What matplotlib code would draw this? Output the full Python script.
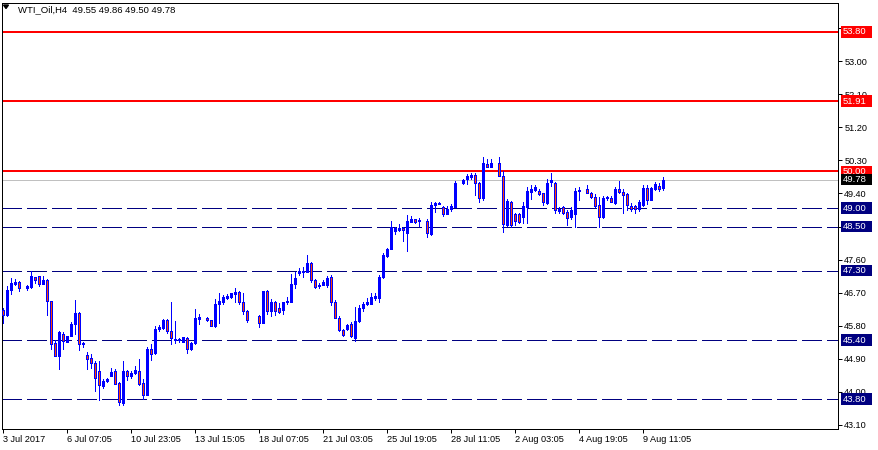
import numpy as np
import matplotlib.pyplot as plt
from matplotlib.patches import Rectangle, Polygon
import matplotlib.transforms as mtransforms

plt.rcParams['font.family'] = ['Liberation Sans', 'DejaVu Sans']
plt.rcParams['lines.scale_dashes'] = False

nan = np.nan

#!données : barres H4 (nan = pas de barre)
o = [46.22, 46.08, 46.76, 46.94, 46.98, nan, 46.82, 46.85, 47.13, 47.15,
     46.93, 47.03, 46.46, 45.33, 44.97, 45.57, 45.35, 45.53, 45.84, 46.14,
     45.31, 45.01, 44.91, 44.77, 44.55, 44.15, 44.28, 44.43, 44.55, 44.23,
     43.70, 44.55, 44.42, 44.51, 44.56, 44.24, 43.92, 45.16, 45.06, 45.72,
     45.74, 45.96, 45.65, 45.40, 45.44, 45.36, 45.45, 45.16, 45.32, 45.99,
     nan, 46.02, 45.95, 45.79, 46.39, 46.45, 46.56, 46.59, 46.66, 46.71,
     46.44, 46.20, nan, nan, 46.06, 45.88, 46.74, 46.21, 46.45, 46.27,
     46.23, 46.43, 46.45, 46.93, 47.23, 47.26, 47.27, 47.50, 47.04, 46.88,
     46.92, 46.91, 47.12, 46.45, 46.02, 45.68, 45.71, 45.84, 45.45, 45.93,
     46.27, 46.39, 46.39, 46.55, 46.54, 47.13, 47.70, 47.88, 48.39, 48.40,
     48.45, 48.32, 48.63, 48.71, 48.66, nan, 48.65, 48.30, 49.08, 49.12,
     49.04, 48.84, 48.97, 49.04, nan, 49.69, 49.80, 49.85, 49.90, 49.68,
     49.27, 50.20, 50.11, nan, 50.22, 49.88, 48.54, 49.18, 48.84, 48.84,
     48.77, 49.04, 49.45, 49.50, 49.48, 49.40, 49.15, 49.72, 49.69, 48.91,
     49.02, 48.90, 48.77, 48.84, 49.47, nan, 49.51, 49.42, 49.31, 49.09,
     48.77, 49.27, 49.27, 49.15, 49.51, 49.45, 49.39, 49.07, 49.06, 48.97,
     49.09, 49.54, 49.22, 49.52, 49.60, 49.55]
h = [46.28, 46.88, 47.10, 47.08, 47.01, nan, 46.91, 47.28, 47.13, 47.15,
     47.15, 47.08, 46.46, 45.40, 45.66, 45.63, 45.53, 45.90, 46.50, 46.16,
     45.36, 45.08, 45.04, 44.83, 44.84, 44.35, 44.37, 44.64, 44.62, 44.25,
     44.83, 44.58, 44.55, 44.69, 44.90, 44.34, 45.22, 45.31, 45.79, 45.83,
     45.98, 45.98, 46.45, 45.93, 45.46, 45.50, 45.48, 45.34, 46.24, 46.12,
     nan, 46.04, 45.96, 46.52, 46.70, 46.63, 46.66, 46.70, 46.82, 46.74,
     46.68, 46.23, nan, nan, 46.09, 46.75, 46.77, 46.52, 46.48, 46.41,
     46.45, 46.59, 47.21, 47.27, 47.36, 47.40, 47.72, 47.52, 47.06, 46.97,
     47.04, 47.15, 47.18, 46.50, 46.06, 45.72, 45.84, 45.91, 46.30, 46.36,
     46.45, 46.56, 46.70, 46.70, 47.18, 47.77, 47.92, 48.65, 48.48, 48.57,
     48.48, 48.81, 48.79, 48.71, 48.72, nan, 48.70, 49.18, 49.18, 49.17,
     49.06, 49.06, 49.11, 49.74, nan, 49.80, 49.92, 49.97, 49.95, 49.70,
     50.40, 50.33, 50.34, nan, 50.40, 50.00, 49.24, 49.20, 48.88, 48.86,
     49.18, 49.58, 49.63, 49.63, 49.52, 49.42, 49.80, 49.95, 49.72, 49.02,
     49.06, 48.95, 49.02, 49.54, 49.58, nan, 49.63, 49.45, 49.39, 49.30,
     49.32, 49.34, 49.32, 49.58, 49.75, 49.51, 49.42, 49.13, 49.09, 49.21,
     49.63, 49.63, 49.58, 49.70, 49.68, 49.86]
l = [45.88, 46.06, 46.67, 46.91, 46.75, nan, 46.77, 46.82, 46.97, 46.88,
     46.93, 46.10, 45.17, 44.96, 44.62, 45.17, 45.35, 45.53, 45.58, 45.13,
     45.22, 44.62, 44.64, 44.03, 43.76, 44.11, 44.26, 44.43, 44.20, 43.63,
     43.64, 44.31, 44.37, 44.47, 44.17, 43.79, 43.90, 44.87, 45.04, 45.65,
     45.72, 45.59, 45.30, 45.32, 45.35, 45.36, 45.05, 45.14, 45.29, 45.84,
     nan, 45.93, 45.79, 45.77, 45.86, 46.39, 46.52, 46.56, 46.44, 46.40,
     46.12, 45.90, nan, nan, 45.77, 45.88, 46.12, 46.07, 46.10, 46.15,
     46.12, 46.38, 46.45, 46.82, 47.18, 47.12, 47.27, 46.99, 46.82, 46.83,
     46.92, 46.86, 46.36, 46.00, 45.65, 45.52, 45.68, 45.48, 45.39, 45.90,
     46.20, 46.36, 46.39, 46.50, 46.45, 47.10, 47.66, 47.88, 48.29, 48.38,
     48.11, 47.84, 48.63, 48.59, 48.51, nan, 48.22, 48.27, 48.90, 49.10,
     48.80, 48.84, 48.93, 49.04, nan, 49.66, 49.66, 49.79, 49.36, 49.18,
     49.22, 50.11, 50.11, nan, 49.88, 48.36, 48.51, 48.50, 48.54, 48.60,
     48.60, 48.59, 49.24, 49.46, 49.37, 49.09, 49.12, 49.60, 48.88, 48.88,
     48.85, 48.54, 48.70, 48.50, 49.22, nan, 49.40, 49.28, 49.03, 48.49,
     48.72, 49.22, 49.16, 49.12, 49.42, 48.86, 48.95, 48.92, 48.88, 48.92,
     49.06, 49.11, 49.22, 49.50, 49.48, 49.50]
c = [46.10, 46.76, 46.97, 46.99, 46.82, nan, 46.88, 47.15, 47.05, 46.94,
     47.04, 46.46, 45.31, 44.96, 45.63, 45.37, 45.53, 45.84, 46.14, 45.31,
     45.33, 44.90, 44.77, 44.38, 44.17, 44.28, 44.34, 44.53, 44.20, 43.72,
     44.55, 44.43, 44.51, 44.60, 44.22, 43.90, 45.16, 45.04, 45.70, 45.77,
     45.96, 45.65, 45.45, 45.44, 45.40, 45.48, 45.16, 45.32, 46.02, 46.04,
     nan, 45.96, 45.80, 46.39, 46.48, 46.58, 46.62, 46.68, 46.71, 46.44,
     46.21, 45.95, nan, nan, 45.88, 46.73, 46.21, 46.45, 46.21, 46.18,
     46.45, 46.48, 46.93, 47.09, 47.28, 47.30, 47.50, 47.04, 46.86, 46.90,
     46.99, 47.09, 46.45, 46.02, 45.68, 45.54, 45.81, 45.52, 45.93, 46.27,
     46.39, 46.45, 46.59, 46.60, 47.13, 47.72, 47.88, 48.48, 48.45, 48.45,
     48.40, 48.66, 48.71, 48.63, 48.69, nan, 48.32, 49.09, 49.13, 49.14,
     48.83, 48.97, 49.06, 49.69, nan, 49.77, 49.88, 49.91, 49.68, 49.27,
     50.22, 50.11, 50.22, nan, 49.88, 48.57, 49.20, 48.54, 48.66, 48.63,
     49.06, 49.48, 49.51, 49.58, 49.39, 49.18, 49.69, 49.77, 48.95, 48.97,
     48.88, 48.72, 48.95, 49.48, 49.50, nan, 49.42, 49.31, 49.06, 48.77,
     49.27, 49.30, 49.18, 49.51, 49.45, 49.36, 49.09, 48.99, 48.97, 49.18,
     49.54, 49.22, 49.54, 49.66, 49.52, 49.78]

red_levels = [53.80, 51.91, 50.00]
navy_levels = [49.00, 48.50, 47.30, 45.40, 43.80]
bid = 49.78
y_ticks = [43.10, 44.00, 44.90, 45.80, 46.70, 47.60, 48.50, 49.40, 50.30, 51.20, 52.10, 53.00, 53.90]
x_ticks = [0, 16, 32, 48, 64, 80, 96, 112, 128, 144, 160]
x_labels = ['3 Jul 2017', '6 Jul 07:05', '10 Jul 23:05', '13 Jul 15:05', '18 Jul 07:05',
            '21 Jul 03:05', '25 Jul 19:05', '28 Jul 11:05', '2 Aug 03:05', '4 Aug 19:05',
            '9 Aug 11:05']
titre = 'WTI_Oil,H4  49.55 49.86 49.50 49.78'

o, h, l, c = map(np.array, (o, h, l, c))
x = np.arange(len(o))
ok = ~np.isnan(o)
up = ok & (c >= o)
dn = ok & (c < o)

px = 0.72  # 1 pixel en points
fig = plt.figure(figsize=(8.79, 4.5), dpi=100)
ax = fig.add_axes([2/879, 21/450, 836/879, 426/450])
ax.set_xlim(-0.25, 208.75)
ax.set_ylim(42.983, 54.590)

#!niveaux
for lv in red_levels:
    ax.axhline(lv, color='#FF0000', lw=2*px, zorder=1, antialiased=False)
for lv in navy_levels:
    ax.axhline(lv, color='#000080', lw=px, linestyle=(0, (13.7, 3.6)), zorder=1,
               antialiased=False)
ax.axhline(bid, color='#C0C0C0', lw=px, zorder=1, antialiased=False)

#!bougies
ax.vlines(x[ok], l[ok], h[ok], color='#0000FF', lw=px, zorder=2, antialiased=False)
ax.bar(x[up], c[up]-o[up], bottom=o[up], width=0.5, color='#0000FF',
       edgecolor='#0000FF', lw=px, zorder=3, antialiased=False)
ax.bar(x[dn], o[dn]-c[dn], bottom=c[dn], width=0.5, color='#FF4500',
       edgecolor='#0000FF', lw=px, zorder=3, antialiased=False)

#!axes
for s in ax.spines.values():
    s.set_linewidth(px)
    s.set_color('black')
ax.yaxis.tick_right()
ax.set_yticks(y_ticks)
ax.set_yticklabels(['%.2f' % t for t in y_ticks])
ax.tick_params(axis='y', length=3, width=px, pad=1.5, labelsize=6.6)
ax.set_xticks(x_ticks)
ax.set_xticklabels(x_labels, ha='left')
ax.tick_params(axis='x', length=3, width=px, pad=1.5, labelsize=6.6)

#!étiquettes de prix
blend = mtransforms.blended_transform_factory(ax.transAxes, ax.transData)
etiquettes = [(lv, '#FF0000') for lv in red_levels] + [(bid, '#000000')] + \
             [(lv, '#000080') for lv in navy_levels]
for lv, col in etiquettes:
    ax.add_patch(Rectangle((1.0036, lv - 0.16), 0.0375, 0.32, transform=blend,
                           facecolor=col, edgecolor='none', clip_on=False, zorder=5))
    ax.text(1.0055, lv, '%.2f' % lv, transform=blend, color='white', fontsize=6.8,
            va='center', ha='left', zorder=6, clip_on=False)

#!titre
fig.add_artist(Polygon([[3.5/879, 1-5/450], [8.5/879, 1-5/450], [6/879, 1-8.5/450]],
                       closed=True, transform=fig.transFigure, color='black'))
ax.text(16/836, 1-6.5/426, titre, transform=ax.transAxes, fontsize=6.8, va='center', ha='left')

fig.savefig('out.png', dpi=100, facecolor='white')
